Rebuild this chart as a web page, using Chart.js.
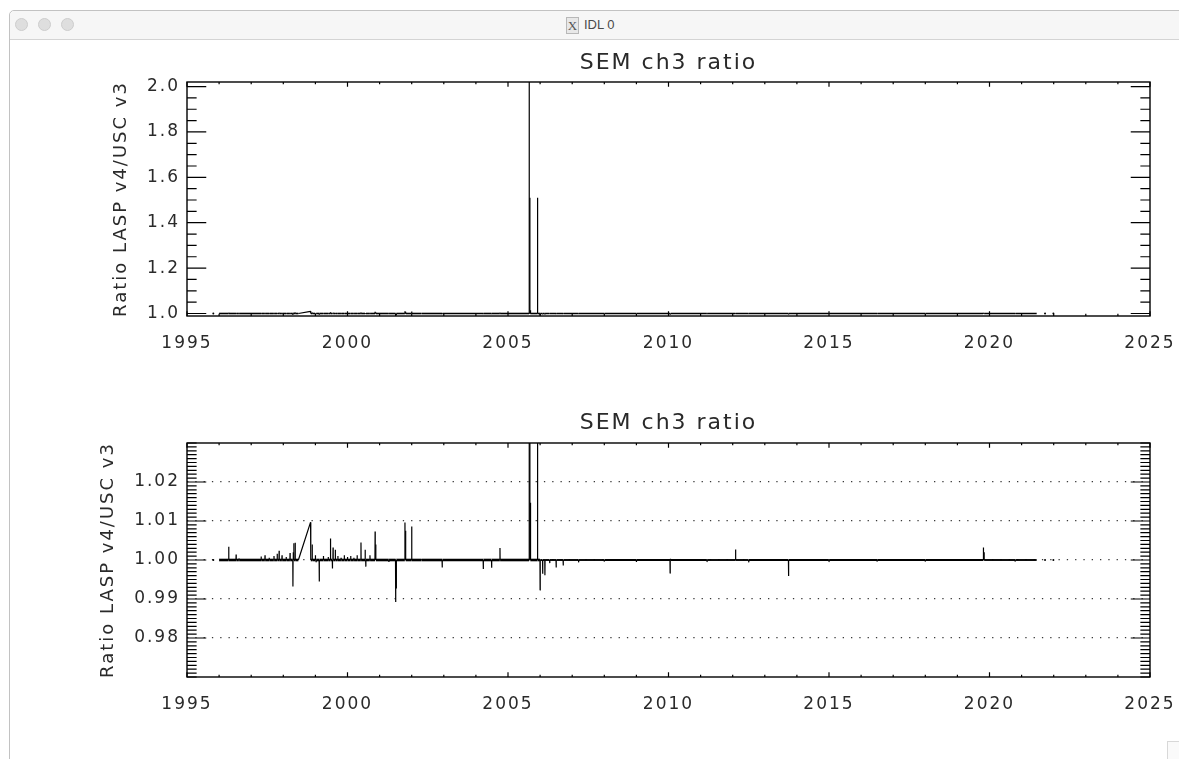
<!DOCTYPE html>
<html>
<head>
<meta charset="utf-8">
<title>IDL 0</title>
<script src="https://cdn.jsdelivr.net/npm/chart.js@4.4.1/dist/chart.umd.min.js"></script>
<style>
  html, body { margin: 0; padding: 0; background: #fff; }
  body { width: 1179px; height: 759px; position: relative; overflow: hidden; }
  #frame { position: absolute; left: 9px; top: 10px; width: 1200px; height: 800px;
           border: 1px solid #c2c2c2; border-top-left-radius: 5px; }
  #bar { position: absolute; left: 10px; top: 11px; width: 1180px; height: 28px;
         background: #f6f6f6; border-bottom: 1px solid #d4d4d4; border-top-left-radius: 5px; }
  .light { position: absolute; top: 7px; width: 13px; height: 13px; border-radius: 50%;
           background: #dedede; border: 1px solid #cdcdcd; box-sizing: border-box; }
  #caption { position: absolute; left: 556px; top: 6px; font: 13px "Liberation Sans", Arial, sans-serif;
             color: #4a4a4a; white-space: nowrap; }
  #xicon { display: inline-block; width: 11px; height: 15px; line-height: 15px; text-align: center;
           font: 13px "Liberation Serif", serif; color: #555; background: #e8e8e8;
           border: 1px solid #b8b8b8; vertical-align: middle; margin-right: 5px; }
  #grip { position: absolute; left: 1167px; top: 741px; width: 14px; height: 20px;
          border: 1px solid #d8d8d8; background: #fafafa; }
  canvas { position: absolute; left: 0; }
  #plotFull { top: 40px; }
  #plotZoom { top: 360px; }
</style>
</head>
<body>
<div id="frame"></div>
<div id="bar">
  <span class="light" style="left:5px"></span>
  <span class="light" style="left:28px"></span>
  <span class="light" style="left:51px"></span>
  <div id="caption"><span id="xicon">X</span>IDL 0</div>
</div>
<canvas id="plotFull" width="1179" height="320"></canvas>
<canvas id="plotZoom" width="1179" height="399"></canvas>
<div id="grip"></div>

<script>
// tick labels
const xTicks = [1995, 2000, 2005, 2010, 2015, 2020, 2025];
const yTicksFull = [1.0, 1.2, 1.4, 1.6, 1.8, 2.0];
const yTicksZoom = [0.98, 0.99, 1.00, 1.01, 1.02];

// SEM ch3, LASP v4 / USC v3 ratio (decimal year, ratio)
// each excursion is a one-sample spike off the 1.0 baseline
const years = [
  1996.000,
  1996.296, 1996.300, 1996.304,   1996.526, 1996.530, 1996.534,   1996.616, 1996.620, 1996.624,
  1997.306, 1997.310, 1997.314,   1997.426, 1997.430, 1997.434,   1997.556, 1997.560, 1997.564,
  1997.706, 1997.710, 1997.714,   1997.806, 1997.810, 1997.814,   1997.866, 1997.870, 1997.874,
  1997.956, 1997.960, 1997.964,   1998.086, 1998.090, 1998.094,   1998.206, 1998.210, 1998.214,
  1998.296, 1998.300, 1998.304,   1998.306, 1998.310, 1998.314,   1998.326, 1998.330, 1998.334,
  1998.366, 1998.370, 1998.374,
  1998.470, 1998.850, 1998.856,
  1998.896, 1998.900, 1998.904,   1998.996, 1999.000, 1999.004,   1999.016, 1999.020, 1999.024,
  1999.116, 1999.120, 1999.124,   1999.246, 1999.250, 1999.254,   1999.396, 1999.400, 1999.404,
  1999.466, 1999.470, 1999.474,   1999.526, 1999.530, 1999.534,   1999.546, 1999.550, 1999.554,
  1999.616, 1999.620, 1999.624,   1999.696, 1999.700, 1999.704,   1999.796, 1999.800, 1999.804,
  1999.896, 1999.900, 1999.904,   1999.996, 2000.000, 2000.004,   2000.096, 2000.100, 2000.104,
  2000.196, 2000.200, 2000.204,   2000.296, 2000.300, 2000.304,   2000.416, 2000.420, 2000.424,
  2000.546, 2000.550, 2000.554,   2000.566, 2000.570, 2000.574,   2000.696, 2000.700, 2000.704,
  2000.856, 2000.860, 2000.864,   2000.876, 2000.880, 2000.884,   2001.286, 2001.290, 2001.294,
  2001.496, 2001.500, 2001.504,   2001.516, 2001.520, 2001.524,   2001.786, 2001.790, 2001.794,
  2001.806, 2001.810, 2001.814,   2001.996, 2002.000, 2002.004,   2002.296, 2002.300, 2002.304,
  2002.946, 2002.950, 2002.954,   2004.226, 2004.230, 2004.234,   2004.486, 2004.490, 2004.494,
  2004.746, 2004.750, 2004.754,   2005.656, 2005.660, 2005.664,   2005.676, 2005.680, 2005.684,
  2005.696, 2005.700, 2005.704,   2005.916, 2005.920, 2005.924,   2005.996, 2006.000, 2006.004,
  2006.076, 2006.080, 2006.084,   2006.146, 2006.150, 2006.154,   2006.296, 2006.300, 2006.304,
  2006.496, 2006.500, 2006.504,   2006.716, 2006.720, 2006.724,   2007.196, 2007.200, 2007.204,
  2007.996, 2008.000, 2008.004,   2008.996, 2009.000, 2009.004,   2010.046, 2010.050, 2010.054,
  2010.056, 2010.060, 2010.064,   2011.196, 2011.200, 2011.204,   2012.086, 2012.090, 2012.094,
  2012.496, 2012.500, 2012.504,   2013.736, 2013.740, 2013.744,   2014.996, 2015.000, 2015.004,
  2016.496, 2016.500, 2016.504,   2017.996, 2018.000, 2018.004,   2019.806, 2019.810, 2019.814,
  2019.826, 2019.830, 2019.834,   2020.796, 2020.800, 2020.804,
  2021.470
];
const ratio = [
  1.0000,
  1.0000, 1.0034, 1.0000,   1.0000, 1.0014, 1.0000,   1.0000, 1.0004, 1.0000,
  1.0000, 1.0009, 1.0000,   1.0000, 1.0012, 1.0000,   1.0000, 1.0006, 1.0000,
  1.0000, 1.0010, 1.0000,   1.0000, 1.0016, 1.0000,   1.0000, 1.0024, 1.0000,
  1.0000, 1.0012, 1.0000,   1.0000, 1.0008, 1.0000,   1.0000, 1.0018, 1.0000,
  1.0000, 0.9932, 1.0000,   1.0000, 1.0020, 1.0000,   1.0000, 1.0043, 1.0000,
  1.0000, 1.0044, 1.0000,
  1.0000, 1.0097, 1.0000,
  1.0000, 1.0040, 1.0000,   1.0000, 1.0012, 1.0000,   1.0000, 0.9995, 1.0000,
  1.0000, 0.9945, 1.0000,   1.0000, 1.0010, 1.0000,   1.0000, 1.0008, 1.0000,
  1.0000, 1.0055, 1.0000,   1.0000, 0.9978, 1.0000,   1.0000, 1.0032, 1.0000,
  1.0000, 1.0026, 1.0000,   1.0000, 1.0010, 1.0000,   1.0000, 1.0006, 1.0000,
  1.0000, 1.0012, 1.0000,   1.0000, 1.0008, 1.0000,   1.0000, 1.0010, 1.0000,
  1.0000, 1.0006, 1.0000,   1.0000, 1.0012, 1.0000,   1.0000, 1.0045, 1.0000,
  1.0000, 1.0026, 1.0000,   1.0000, 0.9983, 1.0000,   1.0000, 1.0012, 1.0000,
  1.0000, 1.0073, 1.0000,   1.0000, 1.0040, 1.0000,   1.0000, 0.9995, 1.0000,
  1.0000, 0.9892, 1.0000,   1.0000, 0.9927, 1.0000,   1.0000, 1.0096, 1.0000,
  1.0000, 1.0075, 1.0000,   1.0000, 1.0086, 1.0000,   1.0000, 1.0002, 1.0000,
  1.0000, 0.9981, 1.0000,   1.0000, 0.9977, 1.0000,   1.0000, 0.9980, 1.0000,
  1.0000, 1.0031, 1.0000,   1.0000, 2.0200, 1.0000,   1.0000, 1.5100, 1.0000,
  1.0000, 1.0147, 1.0000,   1.0000, 1.5100, 1.0000,   1.0000, 0.9923, 1.0000,
  1.0000, 0.9965, 1.0000,   1.0000, 0.9961, 1.0000,   1.0000, 0.9992, 1.0000,
  1.0000, 0.9981, 1.0000,   1.0000, 0.9986, 1.0000,   1.0000, 0.9994, 1.0000,
  1.0000, 0.9996, 1.0000,   1.0000, 0.9995, 1.0000,   1.0000, 0.9966, 1.0000,
  1.0000, 1.0003, 1.0000,   1.0000, 0.9996, 1.0000,   1.0000, 1.0027, 1.0000,
  1.0000, 0.9994, 1.0000,   1.0000, 0.9959, 1.0000,   1.0000, 0.9996, 1.0000,
  1.0000, 0.9996, 1.0000,   1.0000, 0.9996, 1.0000,   1.0000, 1.0032, 1.0000,
  1.0000, 1.0020, 1.0000,   1.0000, 0.9996, 1.0000,
  1.0000
];

// single samples separated from the record by gaps
const loneYears = [1995.82, 2021.73, 2021.99];
const loneRatio = [1.0000, 1.0000, 1.0000];

const textFont = '"DejaVu Sans", "Liberation Sans", sans-serif';
const ink = '#2a2a2a';

// IDL style box: ticks point inward on all four sides
const idlAxes = {
  id: 'idlAxes',
  afterInit(chart) { chart.ctx.letterSpacing = '2px'; },
  beforeLayout(chart) { chart.ctx.letterSpacing = '2px'; },
  beforeDraw(chart) { chart.ctx.letterSpacing = '2px'; },
  afterDatasetsDraw(chart, args, opts) {
    const { ctx, chartArea: a, scales: { x, y } } = chart;
    ctx.save();
    ctx.strokeStyle = '#000';
    ctx.lineWidth = 1.2;
    ctx.beginPath();

    const xLen = (a.bottom - a.top) * 0.02;
    for (let n = Math.ceil(x.min / opts.xMinor); n * opts.xMinor <= x.max + 1e-9; n++) {
      const v = n * opts.xMinor;
      const major = xTicks.some(t => Math.abs(t - v) < 1e-6);
      const len = major ? xLen : xLen / 2;
      const px = x.getPixelForValue(v);
      ctx.moveTo(px, a.bottom); ctx.lineTo(px, a.bottom - len);
      ctx.moveTo(px, a.top); ctx.lineTo(px, a.top + len);
    }

    const yLen = (a.right - a.left) * 0.02;
    for (let n = Math.ceil(y.min / opts.yMinor - 1e-6); n * opts.yMinor <= y.max + 1e-9; n++) {
      const v = n * opts.yMinor;
      const major = opts.yMajor.some(t => Math.abs(t - v) < 1e-7);
      const len = major ? yLen : yLen / 2;
      const py = y.getPixelForValue(v);
      ctx.moveTo(a.left, py); ctx.lineTo(a.left + len, py);
      ctx.moveTo(a.right, py); ctx.lineTo(a.right - len, py);
    }
    ctx.stroke();

    ctx.lineWidth = 1.4;
    ctx.strokeRect(a.left, a.top, a.right - a.left, a.bottom - a.top);
    ctx.restore();
  }
};

function drawRatio(canvasId, s) {
  const series = years.map((t, i) => ({ x: t, y: ratio[i] }));
  const lone = loneYears.map((t, i) => ({ x: t, y: loneRatio[i] }));

  return new Chart(document.getElementById(canvasId), {
    type: 'line',
    data: {
      datasets: [{
        data: series,
        borderColor: '#000',
        borderWidth: 1.2,
        borderJoinStyle: 'bevel',
        pointRadius: 0,
        tension: 0,
        segment: {
          // flat stretches are densely sampled and read heavier than the spikes
          borderWidth: c => c.p0.parsed.y === c.p1.parsed.y
            ? (c.p0.parsed.x < 2006 ? s.flatEarly : s.flatLate)
            : 1.2
        }
      }, {
        data: lone,
        showLine: false,
        pointRadius: 1,
        pointBorderWidth: 0,
        pointBackgroundColor: '#000'
      }]
    },
    options: {
      responsive: false,
      animation: false,
      layout: { padding: { left: 0, right: 29, top: 0, bottom: 0 } },
      plugins: {
        legend: { display: false },
        tooltip: { enabled: false },
        title: {
          display: true,
          text: 'SEM ch3 ratio',
          color: ink,
          fullSize: false,
          font: { family: textFont, size: 22, weight: 'normal', lineHeight: 1.2 },
          padding: s.titlePad
        },
        idlAxes: { xMinor: 1, yMinor: s.yMinor, yMajor: s.yTicks }
      },
      scales: {
        x: {
          type: 'linear',
          min: 1995,
          max: 2025,
          afterBuildTicks: axis => { axis.ticks = xTicks.map(v => ({ value: v })); },
          afterFit: axis => {
            axis.height = s.xAxisHeight;
            axis.paddingLeft = 0;
            axis.paddingRight = 0;
          },
          grid: { display: false, drawTicks: false },
          border: { display: false },
          ticks: {
            autoSkip: false,
            maxRotation: 0,
            padding: 17,
            color: ink,
            font: { family: textFont, size: 17 },
            callback: v => String(v)
          }
        },
        y: {
          type: 'linear',
          min: s.yMin,
          max: s.yMax,
          afterBuildTicks: axis => { axis.ticks = s.yTicks.map(v => ({ value: v })); },
          afterFit: axis => { axis.width = 187; },
          grid: {
            display: s.dotted,
            drawTicks: false,
            color: '#3a3a3a',
            lineWidth: 1.2
          },
          border: { display: false, dash: [1.3, 7] },
          title: {
            display: true,
            text: 'Ratio LASP v4/USC v3',
            color: ink,
            font: { family: textFont, size: 18, lineHeight: 1.2 },
            padding: { top: s.yTitleOffset, bottom: 0 }
          },
          ticks: {
            autoSkip: false,
            padding: 7,
            color: ink,
            font: { family: textFont, size: 17 },
            callback: v => v.toFixed(s.digits)
          }
        }
      }
    },
    plugins: [idlAxes]
  });
}

drawRatio('plotFull', {
  yMin: 0.989, yMax: 2.02, yTicks: yTicksFull, yMinor: 0.05, digits: 1,
  titlePad: { top: 9.8, bottom: 5.8 }, xAxisHeight: 44, yTitleOffset: 111, dotted: false,
  flatEarly: 1.6, flatLate: 1.5
});

drawRatio('plotZoom', {
  yMin: 0.97, yMax: 1.03, yTicks: yTicksZoom, yMinor: 0.001, digits: 2,
  titlePad: { top: 49.8, bottom: 6.8 }, xAxisHeight: 82, yTitleOffset: 98, dotted: true,
  flatEarly: 2.6, flatLate: 1.9
});
</script>
</body>
</html>
